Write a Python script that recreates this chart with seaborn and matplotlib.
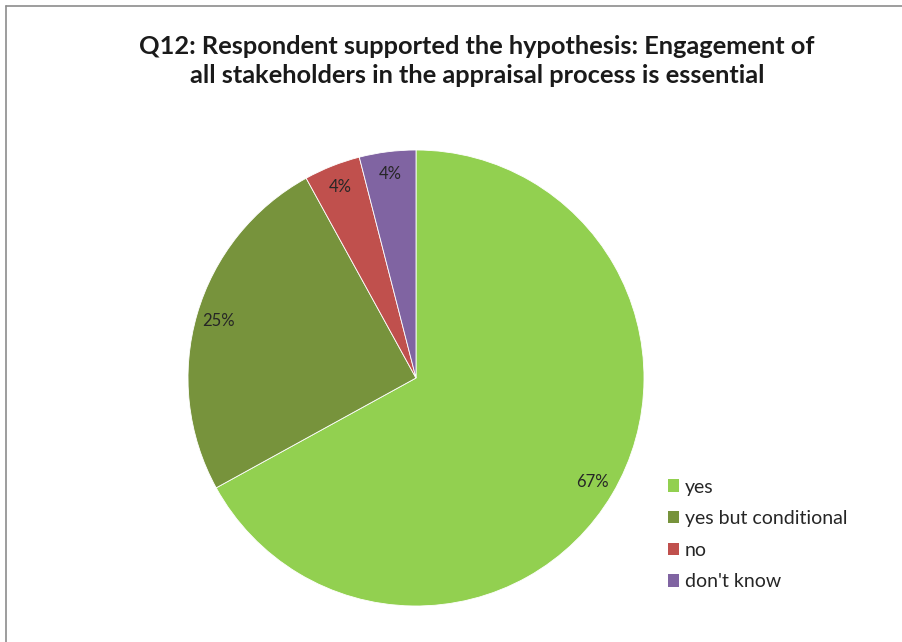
import matplotlib
matplotlib.use("Agg")
import matplotlib.pyplot as plt
import seaborn as sns
from matplotlib.patches import Patch
from matplotlib.lines import Line2D

categories = ["yes", "yes but conditional", "no", "don't know"]
values = [67, 25, 4, 4]
colors = ["#92D050", "#77933C", "#C0504D", "#8064A2"]
title = "Q12: Respondent supported the hypothesis: Engagement of\nall stakeholders in the appraisal process is essential"

sns.set_style("white")
plt.rcParams['font.family'] = ['Lato', 'DejaVu Sans']

W, H = 902, 642
fig = plt.figure(figsize=(W / 100, H / 100), dpi=100)

# border (top and left only visible)
fig.lines.append(Line2D([5.5 / W, 1.0], [1 - 5.5 / H, 1 - 5.5 / H], transform=fig.transFigure,
                        color="#8c8c8c", linewidth=1.2))
fig.lines.append(Line2D([5.5 / W, 5.5 / W], [0, 1 - 5.5 / H], transform=fig.transFigure,
                        color="#8c8c8c", linewidth=1.2))

cx, cy, r = 416, 378, 228
ax = fig.add_axes([(cx - r) / W, (H - cy - r) / H, 2 * r / W, 2 * r / H])
wedges, texts, autotexts = ax.pie(values, colors=colors, startangle=90, counterclock=False,
                                  autopct=lambda p: f"{p:.0f}%", pctdistance=0.9,
                                  wedgeprops=dict(linewidth=0.6, edgecolor="white"),
                                  textprops=dict(fontsize=12, color="#262626"))
ax.set_xlim(-1, 1)
ax.set_ylim(-1, 1)
ax.set_aspect("equal")
ax.axis("off")

fig.text(477 / W, 1 - 61 / H, title, ha="center", va="center", fontsize=18.3,
         fontweight="bold", color="#1a1a1a", linespacing=1.3)

handles = [Patch(facecolor=c, edgecolor="none") for c in colors]
fig.legend(handles, categories, loc="upper left", bbox_to_anchor=(650 / W, 1 - 461 / H),
           frameon=False, fontsize=14, handlelength=0.6, handleheight=0.6,
           handletextpad=0.3, labelspacing=0.75, labelcolor="#262626")

fig.savefig("out.png", dpi=100, facecolor="white")
